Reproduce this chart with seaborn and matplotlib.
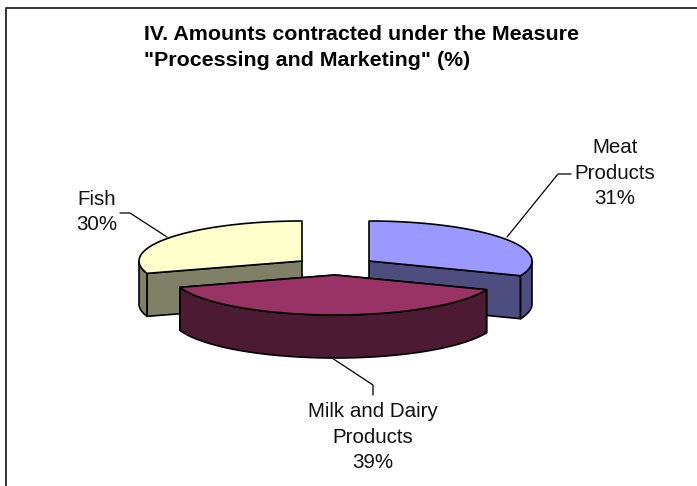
import numpy as np
import seaborn as sns
import matplotlib
matplotlib.use('Agg')
import matplotlib.pyplot as plt

categories = ['Meat\nProducts', 'Milk and Dairy\nProducts', 'Fish']
shares = [31, 39, 30]
title_lines = ['IV. Amounts contracted under the Measure', '"Processing and Marketing" (%)']

palette = sns.color_palette(['#9999FF', '#993366', '#FFFFCC'])
apexes = [(369, 261), (335, 275), (302, 261)]
label_pos = [(615, 173), (373, 437), (97, 212)]
leaders = [[(507, 237), (558, 174), (571, 174)],
           [(332, 358), (373, 385), (373, 395)],
           [(167, 237), (130, 213), (120, 213)]]
rx, ry, depth = 163, 40, 43

sns.set_theme(style='white')
plt.rcParams['font.family'] = ['Liberation Sans', 'DejaVu Sans']

fig = plt.figure(figsize=(6.97, 4.86), dpi=100)
ax = fig.add_axes([0, 0, 1, 1])
ax.set_xlim(0, 697)
ax.set_ylim(486, 0)
ax.axis('off')

# only the top and left of the chart frame fall inside the picture
ax.plot([6, 6, 697], [486, 8.5, 8.5], color='#222222', lw=1.3)


def edge(x0, y0, a):
    return x0 + rx * np.cos(a), y0 - ry * np.sin(a)


def draw_slice(start, end, apex, col, z):
    x0, y0 = apex
    side = tuple(c * 0.5 for c in col)
    a = np.radians(np.linspace(start, end, 120))
    xs, ys = edge(x0, y0, a)
    kw = dict(edgecolor='black', lw=1.2, joinstyle='round', zorder=z)
    # flat cut faces that turn towards the viewer
    for ang in (start, end):
        xe, ye = edge(x0, y0, np.radians(ang))
        if ye > y0:
            ax.fill([x0, xe, xe, x0], [y0, ye, ye + depth, y0 + depth], facecolor=side, **kw)
    # outer rim, only the part below the centre line shows
    front = np.sin(a) <= 0
    if front.any():
        fx, fy = xs[front], ys[front]
        ax.fill(np.r_[fx, fx[::-1]], np.r_[fy, fy[::-1] + depth], facecolor=side, **kw)
    ax.fill(np.r_[x0, xs], np.r_[y0, ys], facecolor=col, **kw)


# clockwise from twelve o'clock, milk is in front so it goes last
bounds = 90 - np.cumsum([0] + shares) * 3.6
for i in [0, 2, 1]:
    draw_slice(bounds[i], bounds[i + 1], apexes[i], palette[i], 2 + (i == 1))

for pts in leaders:
    ax.plot(*zip(*pts), color='black', lw=0.9, zorder=1)

for cat, val, (x, y) in zip(categories, shares, label_pos):
    ax.text(x, y, f'{cat}\n{val}%', ha='center', va='center', ma='center',
            fontsize=14.8, color='#111111', linespacing=1.44)

ax.text(144, 34, title_lines[0], fontsize=15.4, fontweight='bold', color='black', va='center')
ax.text(144, 61, title_lines[1], fontsize=15.4, fontweight='bold', color='black', va='center')

fig.savefig('out.png', dpi=100)
